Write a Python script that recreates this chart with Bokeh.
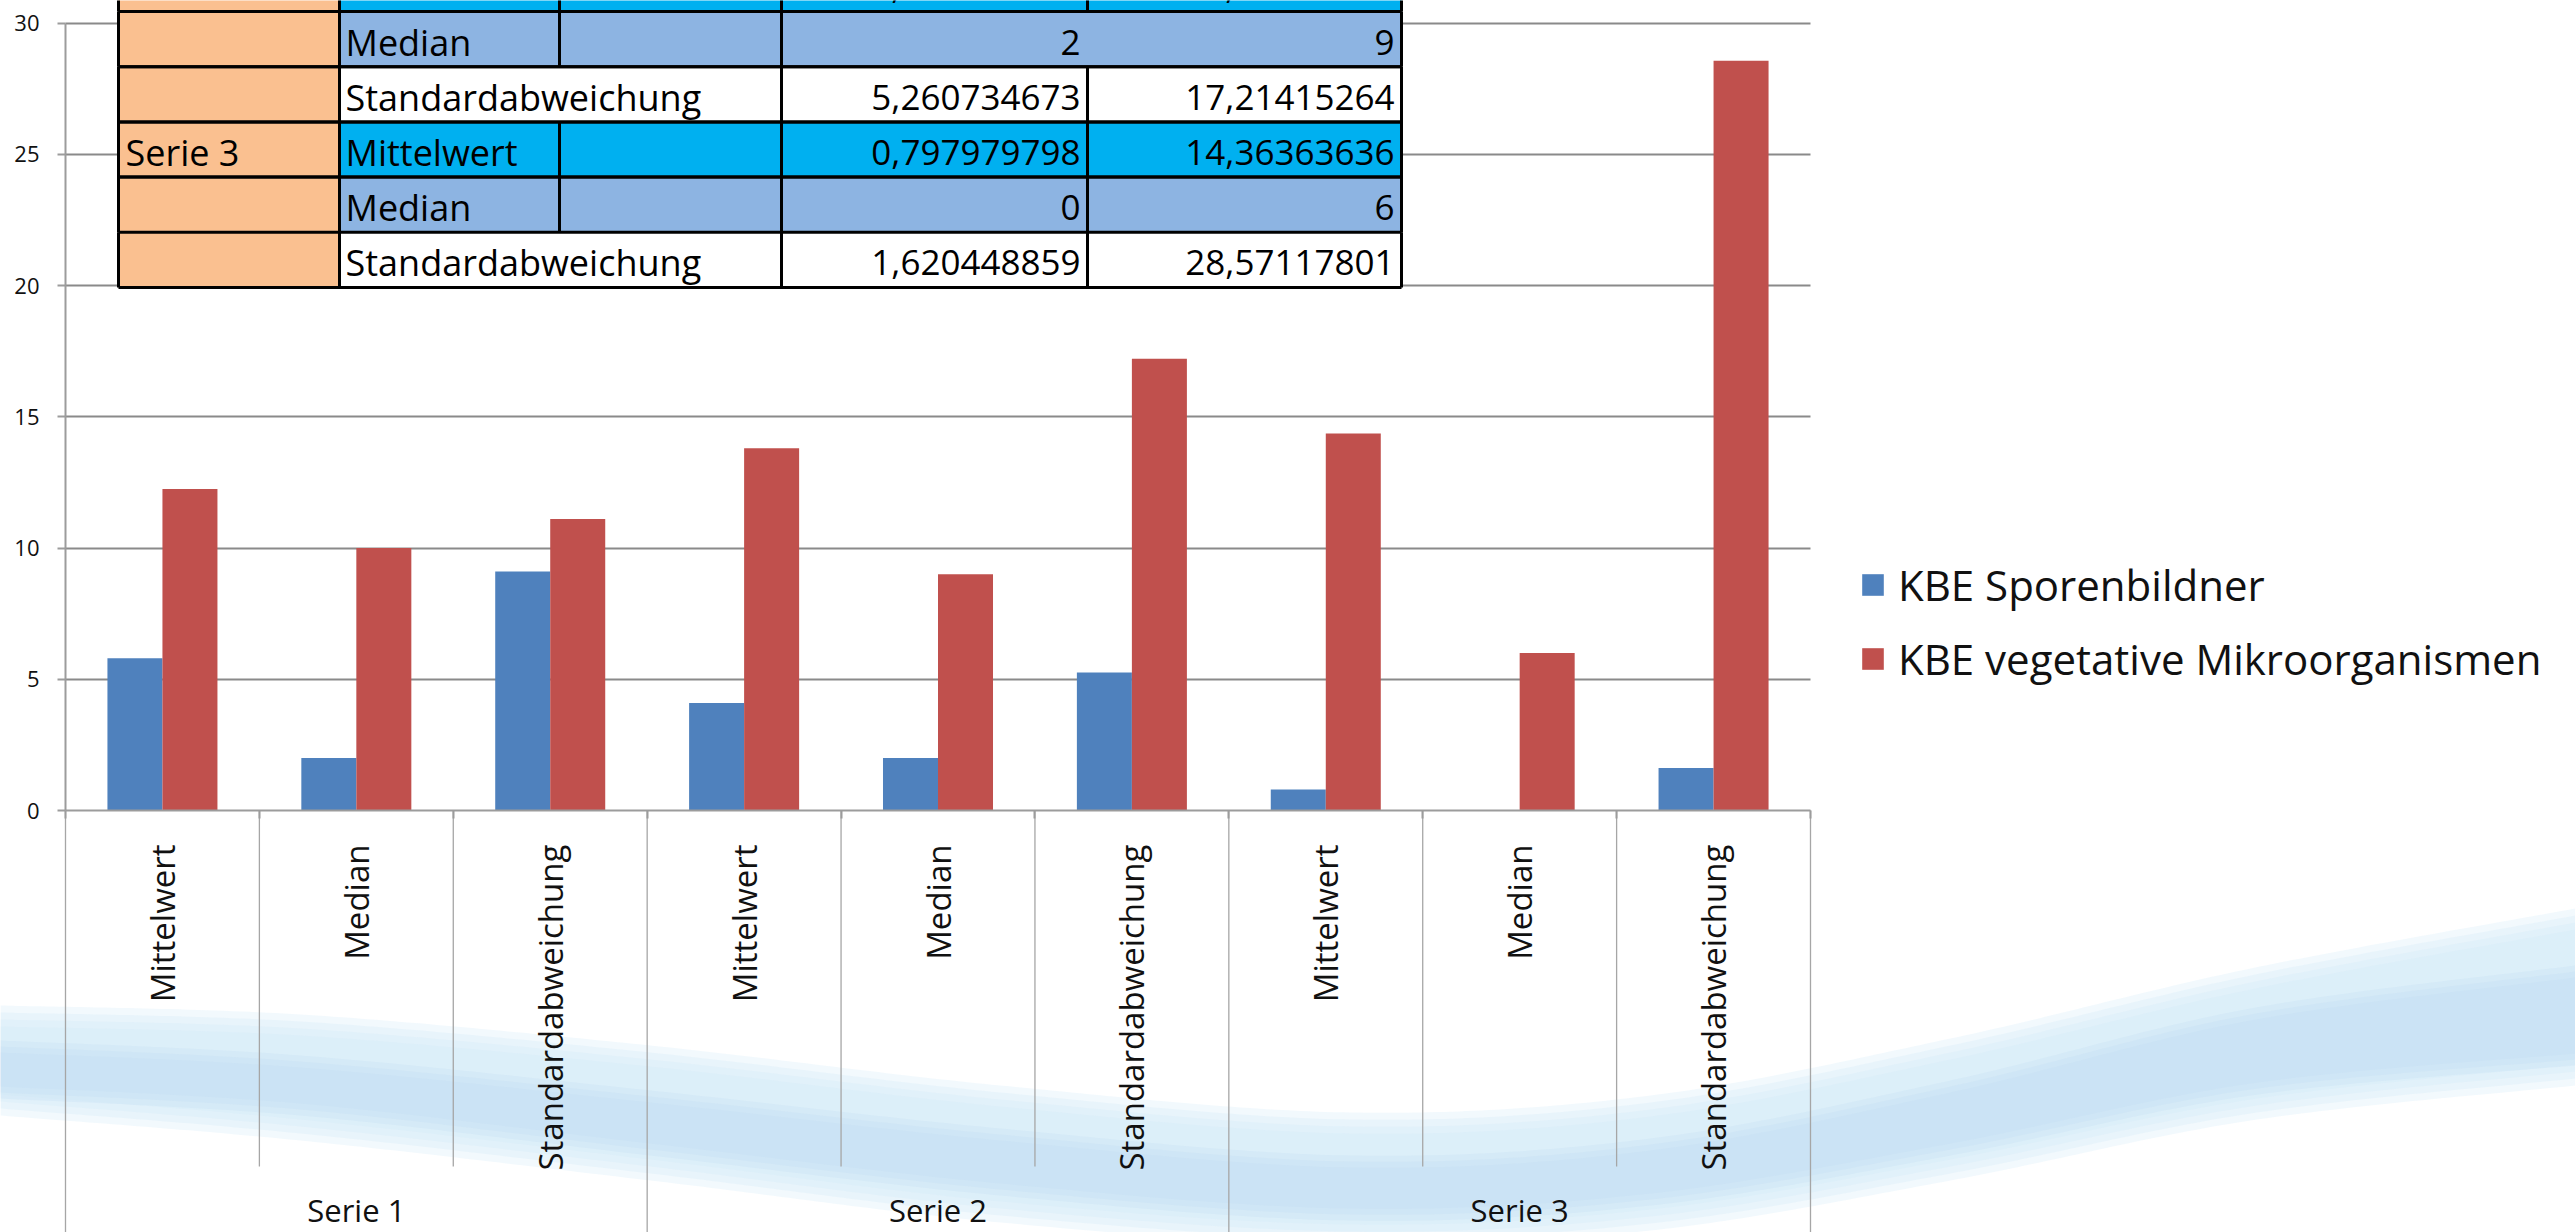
import numpy as np
from bokeh.plotting import figure
from bokeh.models import (Range1d, LinearAxis, FixedTicker, Legend, LegendItem,
                          ColumnDataSource, Grid)
from bokeh.transform import dodge
from bokeh.core.properties import value
from bokeh.embed import file_html
from bokeh.resources import INLINE

# ---------------------------------------------------------------- data
series = ["Serie 1", "Serie 2", "Serie 3"]
stats = ["Mittelwert", "Median", "Standardabweichung"]
sporen = [5.80, 2, 9.11, 4.101010101, 2, 5.260734673, 0.797979798, 0, 1.620448859]
vegetativ = [12.25, 10, 11.11, 13.80808081, 9, 17.21415264, 14.36363636, 6, 28.57117801]
names = ["KBE Sporenbildner", "KBE vegetative Mikroorganismen"]
y_ticks = [0, 5, 10, 15, 20, 25, 30]

# ---------------------------------------------------------------- page geometry
W, H = 2575, 1232
PX_L, PX_R = 65, 1810          # plot area, left / right edge
PX_TOP, PX_ZERO = 22.7, 810    # pixel rows of the axis maximum and of zero
Y_MAX = 30
FONT = "Open Sans"

n_cat = len(series) * len(stats)
x_scale = (PX_R - PX_L) / n_cat
y_scale = (PX_ZERO - PX_TOP) / Y_MAX

x_range = Range1d(0.5 - PX_L / x_scale, n_cat + 0.5 + (W - PX_R) / x_scale)
y_range = Range1d(-(H - PX_ZERO) / y_scale, Y_MAX + PX_TOP / y_scale)

p = figure(width=W, height=H, x_range=x_range, y_range=y_range,
           output_backend="svg", toolbar_location=None,
           x_axis_location=None, y_axis_location=None, min_border=0)
p.min_border_left = p.min_border_right = p.min_border_top = p.min_border_bottom = 0
p.title.visible = False
p.outline_line_color = None
p.background_fill_color = "white"
p.border_fill_color = "white"
p.center = []
# page-pixel coordinates for the decorations around the chart
p.extra_x_ranges = {"px": Range1d(0, W)}
p.extra_y_ranges = {"px": Range1d(H, 0)}

GRID_COL = "#8A8A8A"
AXIS_COL = "#9C9C9C"

# ---------------------------------------------------------------- background wave
def catmull(pts, steps=40):
    pts = np.asarray(pts, float)
    P = np.vstack([pts[0], pts, pts[-1]])
    out = []
    t = np.linspace(0, 1, steps, endpoint=False)[:, None]
    for i in range(1, len(P) - 2):
        p0, p1, p2, p3 = P[i - 1], P[i], P[i + 1], P[i + 2]
        out.append(0.5 * (2 * p1 + (-p0 + p2) * t + (2 * p0 - 5 * p1 + 4 * p2 - p3) * t ** 2
                          + (-p0 + 3 * p1 - 3 * p2 + p3) * t ** 3))
    out.append(P[-2][None, :])
    return np.vstack(out)

wave_x = [0, 300, 650, 1000, 1350, 1650, 1950, 2250, 2575]
outer_top = [1005, 1014, 1045, 1085, 1112, 1095, 1038, 968, 908]
outer_bot = [1115, 1140, 1180, 1222, 1245, 1230, 1180, 1120, 1085]
inner_top = [1040, 1055, 1090, 1128, 1155, 1138, 1080, 1008, 965]
inner_bot = [1098, 1115, 1155, 1195, 1220, 1205, 1155, 1095, 1065]

def band(top, bot, col, layers, inset, alpha):
    for k in range(layers):
        t = catmull([(x, y + k * inset) for x, y in zip(wave_x, top)])
        b = catmull([(x, y - k * inset) for x, y in zip(wave_x, bot)])[::-1]
        xs = np.concatenate([t[:, 0], b[:, 0]])
        ys = np.concatenate([t[:, 1], b[:, 1]])
        p.patch(xs, ys, x_range_name="px", y_range_name="px", level="image",
                fill_color=col, fill_alpha=alpha, line_color=None)

band(outer_top, outer_bot, "#D2E8F9", 4, 7, 0.28)
band(inner_top, inner_bot, "#BFDDF5", 3, 6, 0.25)

# ---------------------------------------------------------------- axes and grid
centers = [i + 1 for i in range(n_cat)]
bounds = [i + 0.5 for i in range(n_cat + 1)]
cat_labels = [st for s in series for st in stats]

yaxis = LinearAxis(fixed_location=0.5, bounds=(0, Y_MAX),
                   ticker=FixedTicker(ticks=y_ticks, minor_ticks=[]))
yaxis.axis_line_color = AXIS_COL
yaxis.axis_line_width = 2
yaxis.major_tick_line_color = AXIS_COL
yaxis.major_tick_line_width = 2
yaxis.major_tick_out = 8
yaxis.major_tick_in = 0
yaxis.minor_tick_out = 0
yaxis.minor_tick_in = 0
yaxis.major_label_standoff = 18
yaxis.major_label_text_font = FONT
yaxis.major_label_text_font_size = "22px"
yaxis.major_label_text_color = "#111111"
p.add_layout(yaxis, "left")

xaxis = LinearAxis(fixed_location=0, bounds=(0.5, n_cat + 0.5),
                   ticker=FixedTicker(ticks=centers, minor_ticks=bounds),
                   major_label_overrides={c: l for c, l in zip(centers, cat_labels)})
xaxis.axis_line_color = AXIS_COL
xaxis.axis_line_width = 2
xaxis.major_tick_out = 0
xaxis.major_tick_in = 0
xaxis.minor_tick_out = 8
xaxis.minor_tick_in = 0
xaxis.minor_tick_line_color = AXIS_COL
xaxis.minor_tick_line_width = 2
xaxis.major_label_orientation = np.pi / 2
xaxis.major_label_standoff = 26
xaxis.major_label_text_font = FONT
xaxis.major_label_text_font_size = "33px"
xaxis.major_label_text_color = "#111111"
p.add_layout(xaxis, "below")

grid_done = False
try:
    ygrid = Grid(dimension=1, ticker=FixedTicker(ticks=y_ticks[1:]), bounds=(0, Y_MAX),
                 cross_bounds=(0.5, n_cat + 0.5), grid_line_color=GRID_COL, grid_line_width=2)
    p.add_layout(ygrid, "center")
    grid_done = True
except AttributeError:
    pass
if not grid_done:
    p.segment(x0=0.5, x1=n_cat + 0.5, y0=y_ticks[1:], y1=y_ticks[1:],
              line_color=GRID_COL, line_width=2, level="underlay")

# category separators below the axis
group_edges = [i * len(stats) + 0.5 for i in range(len(series) + 1)]
sep_end = [H if b in group_edges else 1166 for b in bounds]
p.segment(x0=bounds, x1=bounds, y0=PX_ZERO, y1=sep_end, y_range_name="px",
          line_color="#A6A6A6", line_width=1.3)

# group labels
group_centers = [np.mean(centers[i * len(stats):(i + 1) * len(stats)]) for i in range(len(series))]
p.text(x=group_centers, y=[1209] * len(series), text=series, y_range_name="px",
       text_font=value(FONT), text_font_size="31px", text_align="center",
       text_baseline="middle", text_color="#111111")

# ---------------------------------------------------------------- bars
bw = 0.2837
src = ColumnDataSource(dict(x=centers, sporen=sporen, veg=vegetativ))
r1 = p.vbar(x=dodge("x", -bw / 2, range=p.x_range), top="sporen", width=bw, source=src,
            fill_color="#4F81BD", line_color=None)
r2 = p.vbar(x=dodge("x", bw / 2, range=p.x_range), top="veg", width=bw, source=src,
            fill_color="#C0504D", line_color=None)

legend = Legend(items=[LegendItem(label=names[0], renderers=[r1]),
                       LegendItem(label=names[1], renderers=[r2])],
                location=(1859, 545), orientation="vertical")
legend.padding = 0
legend.margin = 0
legend.spacing = 17
legend.glyph_width = 27
legend.glyph_height = 27
legend.label_standoff = 12
legend.label_text_font = FONT
legend.label_text_font_size = "42px"
legend.label_text_color = "#111111"
legend.border_line_color = None
legend.background_fill_alpha = 0
p.add_layout(legend, "center")

# ---------------------------------------------------------------- statistics table
def fmt(v):
    if float(v).is_integer():
        return str(int(v))
    return f"{v:.10g}".replace(".", ",")

COL = [118, 339, 559, 781, 1087, 1401]
ROW_H = 55.2
TABLE_BOTTOM = 287
row_fill = {"Mittelwert": "#00B0F0", "Median": "#8DB4E2", "Standardabweichung": "#FFFFFF"}

rows = [(s, st, sporen[k * len(stats) + j], vegetativ[k * len(stats) + j])
        for k, s in enumerate(series) for j, st in enumerate(stats)]
n_rows = len(rows)
tops = [TABLE_BOTTOM - (n_rows - i) * ROW_H for i in range(n_rows)]
shown = [i for i in range(n_rows) if tops[i] + ROW_H > 0]

cell_l, cell_r, cell_t, cell_b, cell_c = [], [], [], [], []
for i in shown:
    s, st, a, b = rows[i]
    cell_l += [COL[0], COL[1]]
    cell_r += [COL[1], COL[5]]
    cell_t += [tops[i]] * 2
    cell_b += [tops[i] + ROW_H] * 2
    cell_c += ["#FAC090", row_fill[st]]
p.quad(left=cell_l, right=cell_r, top=cell_t, bottom=cell_b, fill_color=cell_c,
       line_color=None, x_range_name="px", y_range_name="px")

# borders
hy = sorted(set([tops[i] for i in shown] + [tops[i] + ROW_H for i in shown]))
vx, vy0, vy1 = [], [], []
for i in shown:
    s, st, a, b = rows[i]
    t, bt = tops[i], tops[i] + ROW_H
    edges = [COL[0], COL[1], COL[3], COL[5]]
    if st != "Standardabweichung":
        edges.append(COL[2])
    if not (st == "Median" and s == "Serie 2"):
        edges.append(COL[4])
    for e in edges:
        vx.append(e); vy0.append(t); vy1.append(bt)
p.segment(x0=[COL[0]] * len(hy), x1=[COL[5]] * len(hy), y0=hy, y1=hy,
          line_color="black", line_width=3, x_range_name="px", y_range_name="px")
p.segment(x0=vx, x1=vx, y0=vy0, y1=vy1, line_color="black", line_width=3,
          x_range_name="px", y_range_name="px")

# cell texts
lx, ly, lt = [], [], []
rx, ry, rt = [], [], []
for i in shown:
    s, st, a, b = rows[i]
    mid = tops[i] + ROW_H / 2 + 3
    lx.append(COL[1] + 6); ly.append(mid); lt.append(st)
    if st == stats[0] and tops[i] >= 0:
        lx.append(COL[0] + 7); ly.append(mid); lt.append(s)
    rx += [COL[4] - 7, COL[5] - 7]; ry += [mid, mid]; rt += [fmt(a), fmt(b)]
p.text(x=lx, y=ly, text=lt, x_range_name="px", y_range_name="px",
       text_font=value(FONT), text_font_size="36px", text_align="left",
       text_baseline="middle", text_color="black")
p.text(x=rx, y=ry, text=rt, x_range_name="px", y_range_name="px",
       text_font=value(FONT), text_font_size="35px", text_align="right",
       text_baseline="middle", text_color="black")

open("out.html", "w").write(file_html(p, INLINE))
